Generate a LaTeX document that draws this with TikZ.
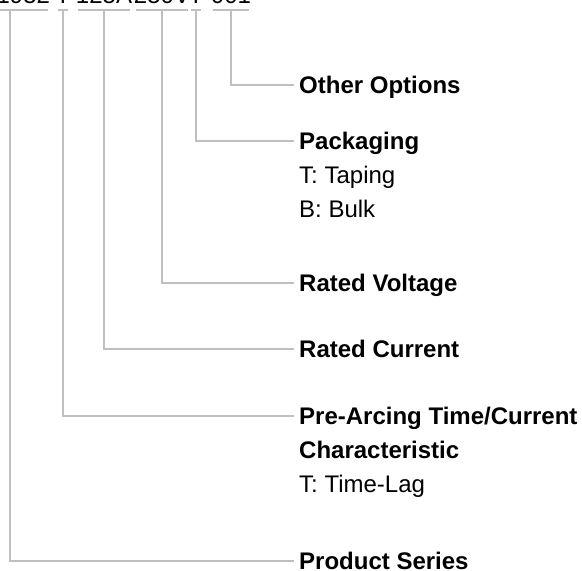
\documentclass[tikz,border=0pt]{standalone}
\usepackage{fontspec}
\setmainfont{Liberation Sans}

\begin{document}
\begin{tikzpicture}[x=1pt,y=-1pt,
  conn/.style={black!25,line width=1.5pt},
  pn/.style={font=\fontsize{24}{28}\selectfont,inner sep=0pt,anchor=base},
  lbl/.style={font=\bfseries\fontsize{24}{28}\selectfont,inner sep=0pt,
    text height=17.2pt,text depth=0pt,anchor=west},
  desc/.style={lbl,font=\fontsize{24}{28}\selectfont}]
\useasboundingbox (0,0) rectangle (582,571);
\clip (0,0) rectangle (582,571);
% part number, cut off at the top
\node[pn] (nSer) at (10,3) {101952};
\node[pn] (nChr) at (63,3) {T};
\node[pn] (nCur) at (104,3) {125A};
\node[pn] (nVol) at (162,3) {250V};
\node[pn] (nPkg) at (196,3) {T};
\node[pn] (nOpt) at (231,3) {001};
\foreach \n in {nSer,nChr,nCur,nVol,nPkg,nOpt}
  \draw[conn,shorten <=2.5pt,shorten >=2.5pt] ([yshift=-7pt]\n.base west) -- ([yshift=-7pt]\n.base east);
% labels
\node[lbl] (other) at (299,85) {Other Options};
\node[lbl] (pack) at (299,141) {Packaging};
\node[desc] (packT) at (299,175) {T: Taping};
\node[desc] (packB) at (299,209) {B: Bulk};
\node[lbl] (volt) at (299,283) {Rated Voltage};
\node[lbl] (curr) at (299,349) {Rated Current};
\node[lbl] (arc) at (299,416) {Pre-Arcing Time/Current};
\node[lbl] (arcC) at (299,450) {Characteristic};
\node[desc] (arcT) at (299,484) {T: Time-Lag};
\node[lbl] (series) at (299,561) {Product Series};
% connectors
\foreach \a/\b in {nOpt/other,nPkg/pack,nVol/volt,nCur/curr,nChr/arc,nSer/series}
  \draw[conn] ([yshift=-7pt]\a.base) |- ([xshift=-5pt]\b.west);
\end{tikzpicture}
\end{document}
